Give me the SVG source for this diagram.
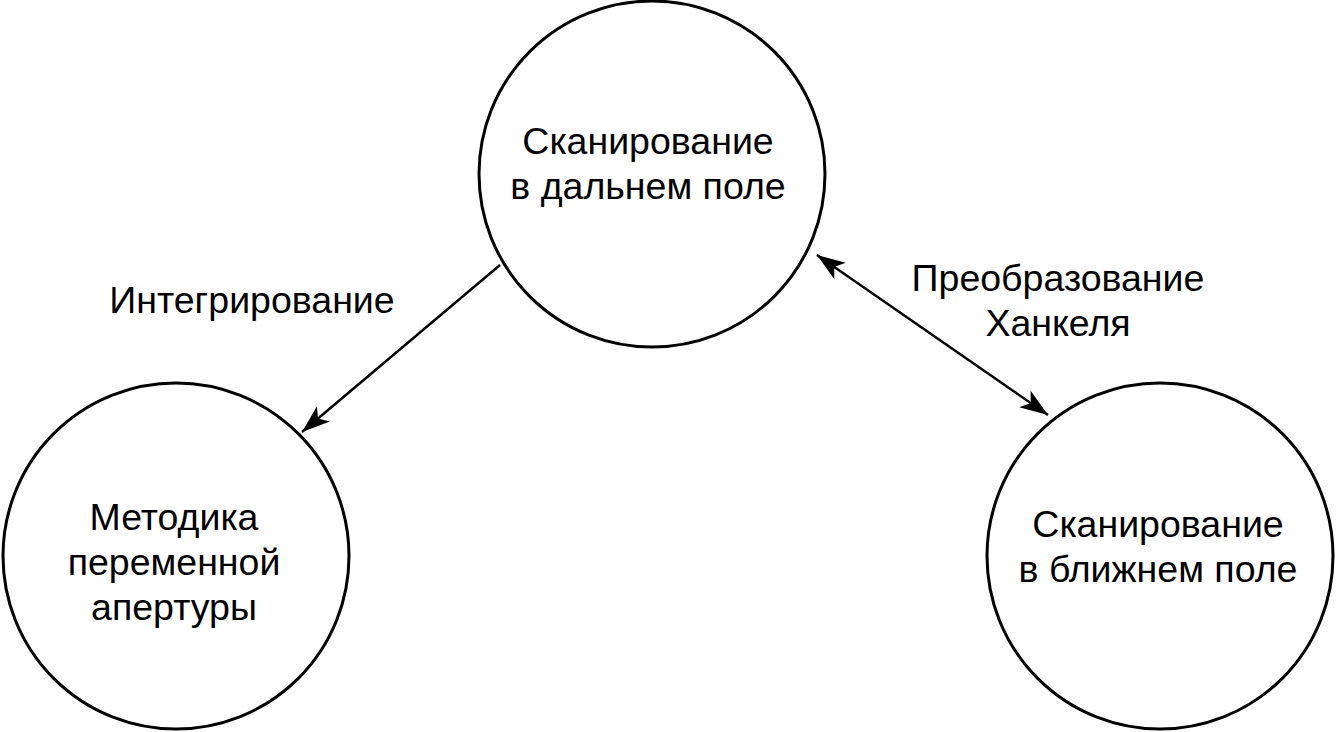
<svg xmlns="http://www.w3.org/2000/svg" width="1336" height="732" viewBox="0 0 1336 732">
<defs>
<style>
.node{fill:none;stroke:#000;stroke-width:3}
.t{font-family:"Liberation Sans",Arial,sans-serif;font-size:37.5px;fill:#000;text-anchor:middle}
.edge{stroke:#000;stroke-width:2.4;fill:none}
</style>
<marker id="ah" markerUnits="userSpaceOnUse" markerWidth="32" markerHeight="22" viewBox="-29 -11 32 22" refX="0" refY="0" orient="auto-start-reverse">
<path d="M0,0 L-28,-10 L-21,0 L-28,10 Z" fill="#000"/>
</marker>
</defs>
<rect width="1336" height="732" fill="#fff"/>
<g id="connectors">
<line class="edge" x1="500" y1="265" x2="302" y2="432" marker-end="url(#ah)"/>
<line class="edge" x1="817" y1="255" x2="1048" y2="415" marker-start="url(#ah)" marker-end="url(#ah)"/>
<text class="t" x="252" y="313">Интегрирование</text>
<text class="t" x="1058" y="291">Преобразование</text>
<text class="t" x="1058" y="336">Ханкеля</text>
</g>
<g id="far">
<circle class="node" cx="652" cy="174" r="173"/>
<text class="t" x="648" y="154">Сканирование</text>
<text class="t" x="648" y="199">в дальнем поле</text>
</g>
<g id="aperture">
<circle class="node" cx="176" cy="556" r="173"/>
<text class="t" x="174" y="530">Методика</text>
<text class="t" x="174" y="575">переменной</text>
<text class="t" x="174" y="620">апертуры</text>
</g>
<g id="near">
<circle class="node" cx="1160" cy="556" r="173"/>
<text class="t" x="1158" y="537">Сканирование</text>
<text class="t" x="1158" y="582">в ближнем поле</text>
</g>
</svg>
